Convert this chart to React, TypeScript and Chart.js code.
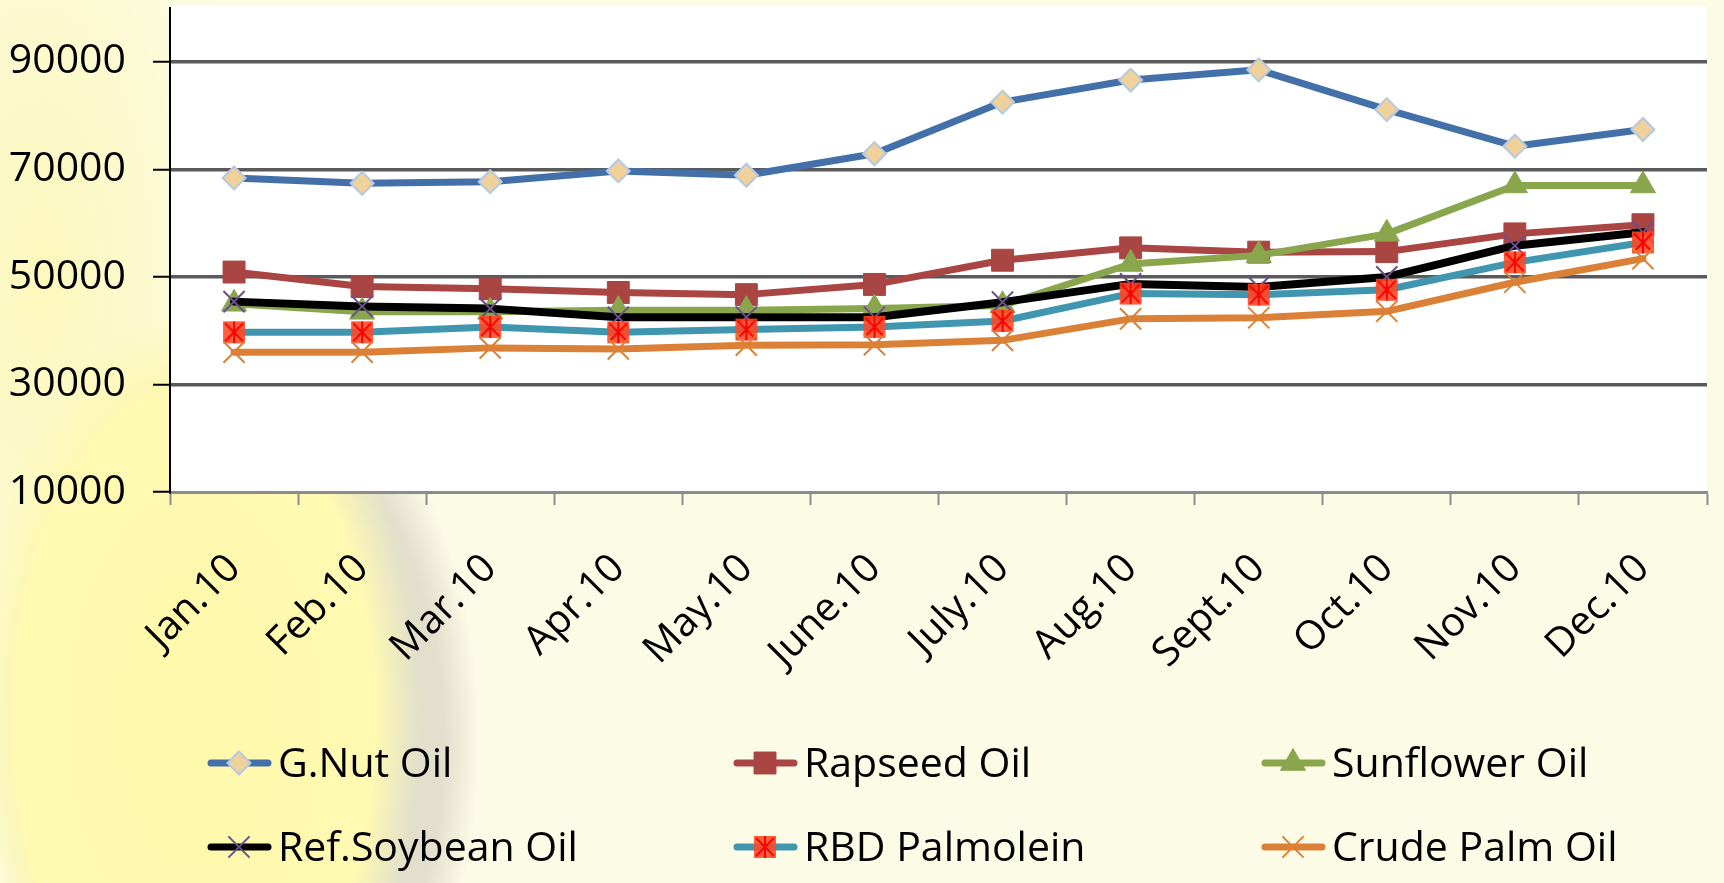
import React, { useEffect, useRef } from 'react';
import { Chart, registerables } from 'chart.js';

Chart.register(...registerables);

const months = ['Jan.10', 'Feb.10', 'Mar.10', 'Apr.10', 'May.10', 'June.10', 'July.10', 'Aug.10', 'Sept.10', 'Oct.10', 'Nov.10', 'Dec.10'];
const gnutOil = [68400, 67400, 67700, 69700, 68900, 72900, 82500, 86600, 88500, 81100, 74300, 77400];
const rapseedOil = [50900, 48200, 47800, 47100, 46700, 48600, 53100, 55400, 54600, 54700, 58000, 59700];
const sunflowerOil = [45000, 43500, 43500, 43800, 43800, 44100, 44700, 52400, 54000, 58000, 67000, 67000];
const soybeanOil = [45400, 44500, 44100, 42500, 42500, 42500, 45300, 48700, 48100, 50000, 55800, 58300];
const rbdPalmolein = [39700, 39700, 40700, 39700, 40200, 40700, 41800, 46900, 46700, 47600, 52700, 56400];
const crudePalmOil = [36000, 36000, 36800, 36600, 37300, 37400, 38200, 42200, 42400, 43600, 49000, 53400];
const yTicks = [10000, 30000, 50000, 70000, 90000];
const seriesNames = ['G.Nut Oil', 'Rapseed Oil', 'Sunflower Oil', 'Ref.Soybean Oil', 'RBD Palmolein', 'Crude Palm Oil'];

const FONT = '"Open Sans", "Liberation Sans", sans-serif';
const SHIFT = 9;

function makeRbdMarker(): HTMLCanvasElement {
  const c = document.createElement('canvas');
  c.width = 24;
  c.height = 24;
  const g = c.getContext('2d')!;
  g.fillStyle = 'rgba(255,72,36,0.88)';
  g.fillRect(1, 1, 22, 22);
  g.strokeStyle = '#FF0000';
  g.lineWidth = 2;
  g.beginPath();
  g.moveTo(12, 1); g.lineTo(12, 23);
  g.moveTo(3, 3); g.lineTo(21, 21);
  g.moveTo(21, 3); g.lineTo(3, 21);
  g.stroke();
  return c;
}

function drawMarker(ctx: CanvasRenderingContext2D, ds: any, x: number, y: number) {
  const style = ds.pointStyle;
  const r = ds.pointRadius;
  ctx.save();
  ctx.fillStyle = ds.pointBackgroundColor;
  ctx.strokeStyle = ds.pointBorderColor;
  ctx.lineWidth = ds.pointBorderWidth;
  ctx.beginPath();
  if (typeof style !== 'string') {
    ctx.drawImage(style, x - style.width / 2, y - style.height / 2);
    ctx.restore();
    return;
  }
  if (style === 'rectRot') {
    ctx.moveTo(x, y - r); ctx.lineTo(x + r, y); ctx.lineTo(x, y + r); ctx.lineTo(x - r, y); ctx.closePath();
    ctx.fill(); ctx.stroke();
  } else if (style === 'rect') {
    const s = r * Math.SQRT1_2;
    ctx.rect(x - s, y - s, 2 * s, 2 * s);
    ctx.fill(); ctx.stroke();
  } else if (style === 'triangle') {
    const w = r * Math.sqrt(3) / 2;
    ctx.moveTo(x, y - r); ctx.lineTo(x + w, y + r / 2); ctx.lineTo(x - w, y + r / 2); ctx.closePath();
    ctx.fill(); ctx.stroke();
  } else if (style === 'crossRot') {
    const s = r * Math.SQRT1_2;
    ctx.moveTo(x - s, y - s); ctx.lineTo(x + s, y + s);
    ctx.moveTo(x + s, y - s); ctx.lineTo(x - s, y + s);
    ctx.stroke();
  }
  ctx.restore();
}

export default function App() {
  const ref = useRef<HTMLCanvasElement>(null);

  useEffect(() => {
    document.body.style.margin = '0';
    const rbd = makeRbdMarker();
    const base = { borderWidth: 7, borderCapStyle: 'round', borderJoinStyle: 'round', tension: 0, fill: false, pointHoverRadius: 0 };
    const datasets: any[] = [
      { ...base, label: seriesNames[0], data: gnutOil, borderColor: '#4470AA', pointStyle: 'rectRot', pointRadius: 11.5, pointBackgroundColor: '#F0D19A', pointBorderColor: '#B4C9E4', pointBorderWidth: 2, order: 5 },
      { ...base, label: seriesNames[1], data: rapseedOil, borderColor: '#A94543', pointStyle: 'rect', pointRadius: 15.5, pointBackgroundColor: '#A94543', pointBorderColor: '#A94543', pointBorderWidth: 1, order: 4 },
      { ...base, label: seriesNames[2], data: sunflowerOil, borderColor: '#8AA64C', pointStyle: 'triangle', pointRadius: 14.5, pointBackgroundColor: '#8AA64C', pointBorderColor: '#8AA64C', pointBorderWidth: 1, order: 3 },
      { ...base, label: seriesNames[3], data: soybeanOil, borderColor: '#000000', borderWidth: 8, pointStyle: 'crossRot', pointRadius: 15, pointBackgroundColor: '#6B4F8E', pointBorderColor: '#6B4F8E', pointBorderWidth: 2, order: 2 },
      { ...base, label: seriesNames[4], data: rbdPalmolein, borderColor: '#4096AF', pointStyle: rbd, pointRadius: 12, pointBackgroundColor: '#FF4824', pointBorderColor: '#FF0000', pointBorderWidth: 1, order: 1 },
      { ...base, label: seriesNames[5], data: crudePalmOil, borderColor: '#DB8137', pointStyle: 'crossRot', pointRadius: 15, pointBackgroundColor: '#DB8137', pointBorderColor: '#DB8137', pointBorderWidth: 2, order: 0 },
    ];

    const customPlugin = {
      id: 'customBgLegend',
      beforeDraw(chart: any) {
        const { ctx, chartArea } = chart;
        ctx.save();
        ctx.fillStyle = '#FFFFFF';
        ctx.fillRect(chartArea.left, chartArea.top - 2, chartArea.right - chartArea.left, chartArea.bottom - chartArea.top + 2);
        ctx.restore();
      },
      afterDraw(chart: any) {
        const { ctx } = chart;
        const colX = [208, 734, 1262];
        const rowY = [763 + SHIFT, 847 + SHIFT];
        chart.data.datasets.forEach((ds: any, i: number) => {
          const x0 = colX[i % 3];
          const y0 = rowY[Math.floor(i / 3)];
          ctx.save();
          ctx.strokeStyle = ds.borderColor;
          ctx.lineWidth = 7;
          ctx.lineCap = 'round';
          ctx.beginPath();
          ctx.moveTo(x0 + 3, y0);
          ctx.lineTo(x0 + 60, y0);
          ctx.stroke();
          ctx.restore();
          drawMarker(ctx, ds, x0 + 31, y0);
          ctx.save();
          ctx.fillStyle = '#000000';
          ctx.font = `41px ${FONT}`;
          ctx.textBaseline = 'middle';
          ctx.textAlign = 'left';
          ctx.fillText(ds.label, x0 + 70, y0 + 2);
          ctx.restore();
        });
      },
    };

    const chart = new Chart(ref.current!, {
      type: 'line',
      data: { labels: months, datasets },
      options: {
        animation: false,
        responsive: false,
        devicePixelRatio: 1,
        events: [],
        layout: { padding: { top: 0, right: 14, left: 0, bottom: 0 } },
        plugins: { legend: { display: false }, tooltip: { enabled: false } },
        scales: {
          x: {
            type: 'category',
            offset: true,
            grid: { offset: true, drawOnChartArea: false, drawTicks: true, tickLength: 13, tickColor: '#8C8C8C', tickWidth: 2 },
            border: { color: '#8C8C8C', width: 3 },
            ticks: { font: { family: FONT, size: 40 }, color: '#000', maxRotation: 45, minRotation: 45, padding: 40, autoSkip: false },
            afterFit: (s: any) => { s.height = 391; s.paddingLeft = 0; s.paddingRight = 0; },
          },
          y: {
            min: 10000,
            max: 100000,
            afterBuildTicks: (s: any) => { s.ticks = yTicks.map((v) => ({ value: v })); },
            grid: {
              color: (c: any) => (c.tick && c.tick.value === 10000 ? 'rgba(0,0,0,0)' : '#5A5A5A'),
              lineWidth: 3.5,
              drawTicks: true,
              tickLength: 17,
              tickColor: '#000',
              tickWidth: 2,
            },
            border: { color: '#000', width: 2 },
            ticks: { font: { family: FONT, size: 41 }, color: '#000', padding: 27, callback: (v: any) => String(v) },
            afterFit: (s: any) => { s.width = 170; s.paddingTop = 0; s.paddingBottom = 0; },
          },
        },
      },
      plugins: [customPlugin],
    } as any);
    return () => chart.destroy();
  }, []);

  const bg = [
    'radial-gradient(ellipse 225px 410px at 195px 720px, rgba(255,249,172,1) 0%, rgba(255,249,178,1) 80%, rgba(255,249,190,0) 100%)',
    'radial-gradient(ellipse 245px 400px at 235px 740px, rgba(200,196,178,0.6) 0%, rgba(200,196,178,0.5) 85%, rgba(230,228,210,0) 100%)',
    'radial-gradient(ellipse 230px 560px at 40px 280px, rgba(253,248,188,1) 0%, rgba(252,250,210,0.6) 70%, rgba(252,251,230,0) 100%)',
    '#FCFBE6',
  ].join(', ');

  return (
    <div style={{ position: 'fixed', left: 0, top: 0, width: 1724, height: 883, background: bg, overflow: 'hidden' }}>
      <canvas
        ref={ref}
        width={1724}
        height={883 + SHIFT}
        style={{ display: 'block', position: 'absolute', left: 0, top: -SHIFT, width: 1724, height: 883 + SHIFT }}
      />
    </div>
  );
}
